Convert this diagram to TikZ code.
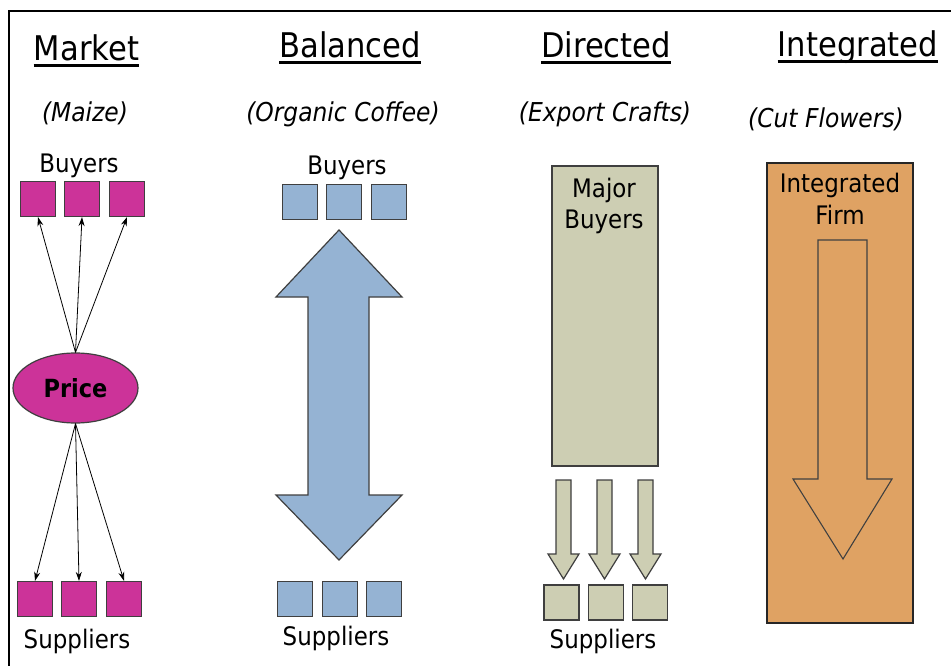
\documentclass[tikz,border=0pt]{standalone}
\usepackage{fontspec}
\setmainfont{DejaVu Sans}[FakeStretch=0.9]
\usetikzlibrary{arrows.meta,shapes.geometric}
\definecolor{mag}{HTML}{CC3399}
\definecolor{lblue}{HTML}{95B3D3}
\definecolor{khaki}{HTML}{CDCEB3}
\definecolor{orng}{HTML}{DFA263}
\definecolor{edge}{HTML}{3F3F3F}
\begin{document}
\begin{tikzpicture}[x=1pt,y=-1pt,
  title/.style={inner sep=0pt, anchor=base, font=\fontsize{34}{40}\selectfont},
  sub/.style={inner sep=0pt, anchor=base, font=\fontsize{26}{30}\selectfont\itshape},
  lab/.style={inner sep=0pt, anchor=base, font=\fontsize{25.5}{30}\selectfont},
  sq/.style={draw=edge, line width=1.2pt, minimum size=35pt, inner sep=0pt},
  conn/.style={-{Stealth[length=9pt,width=6pt]}, line width=0.8pt},
  blockarrow/.style={draw=edge, line width=1.2pt, line join=miter},
  uline/.style={line width=2.4pt}]
\useasboundingbox (0,0) rectangle (951,666);
\fill[white] (0,0) rectangle (951,666);
% frame
\draw[line width=2pt] (951,11) -- (9,11) -- (9,666);

% ---------- titles ----------
\node[title] (t1) at (86.5,61) {Market};
\node[title] (t2) at (350,58) {Balanced};
\node[title] (t3) at (606,58) {Directed};
\node[title] (t4) at (858,57) {Integrated};
\foreach \t in {t1,t2,t3,t4}
  \draw[uline] ([yshift=-4.5pt]\t.base west) -- ([yshift=-4.5pt]\t.base east);

\node[sub] (s1) at (85,122) {(Maize)};
\node[sub] (s2) at (343,122) {(Organic Coffee)};
\node[sub] (s3) at (605,122) {(Export Crafts)};
\node[sub] (s4) at (826,128) {(Cut Flowers)};

% ---------- Market ----------
\node[lab] (mbl) at (79,172) {Buyers};
\node[sq, fill=mag] (mb1) at (38,199) {};
\node[sq, fill=mag] (mb2) at (82,199) {};
\node[sq, fill=mag] (mb3) at (127,199) {};
\node[ellipse, draw=edge, line width=1.2pt, fill=mag, minimum width=125pt, minimum height=70pt, inner sep=0pt,
      font=\fontsize{25}{30}\selectfont\bfseries] (price) at (75.5,388) {Price};
\node[sq, fill=mag] (ms1) at (35,599) {};
\node[sq, fill=mag] (ms2) at (79,599) {};
\node[sq, fill=mag] (ms3) at (124,599) {};
\node[lab] (msl) at (77,648) {Suppliers};
\foreach \b in {mb1,mb2,mb3} \draw[conn] (price.north) -- (\b.south);
\foreach \s in {ms1,ms2,ms3} \draw[conn] (price.south) -- (\s.north);

% ---------- Balanced ----------
\node[lab] (bbl) at (347,175) {Buyers};
\node[sq, fill=lblue] (bb1) at (300,202) {};
\node[sq, fill=lblue] (bb2) at (344,202) {};
\node[sq, fill=lblue] (bb3) at (389,202) {};
\draw[blockarrow, fill=lblue] (339,230) -- (402,297) -- (369,297) -- (369,495) -- (402,495) -- (339,560)
  -- (276,495) -- (308,495) -- (308,297) -- (276,297) -- cycle;
\node[sq, fill=lblue] (bs1) at (295,599) {};
\node[sq, fill=lblue] (bs2) at (340,599) {};
\node[sq, fill=lblue] (bs3) at (384,599) {};
\node[lab] (bsl) at (336,645) {Suppliers};

% ---------- Directed ----------
\node[draw=edge, line width=1.2pt, fill=khaki, minimum width=106pt, minimum height=300pt, inner sep=0pt] (db) at (605,316) {};
\node[lab] (dbl1) at (604,197) {Major};
\node[lab] (dbl2) at (604,229) {Buyers};
\foreach \cx in {563.5,604.5,645.5}
  \draw[blockarrow, fill=khaki] ({\cx-7.5},480) -- ({\cx+7.5},480) -- ({\cx+7.5},554) -- ({\cx+15.5},554)
    -- (\cx,579) -- ({\cx-15.5},554) -- ({\cx-7.5},554) -- cycle;
\node[sq, fill=khaki] (ds1) at (561.5,602.5) {};
\node[sq, fill=khaki] (ds2) at (606,602.5) {};
\node[sq, fill=khaki] (ds3) at (650,602.5) {};
\node[lab] (dsl) at (603,648) {Suppliers};

% ---------- Integrated ----------
\node[draw=black!85, line width=1.2pt, fill=orng, minimum width=146pt, minimum height=460pt, inner sep=0pt] (ib) at (840,393) {};
\node[lab] (ibl1) at (840,193) {Integrated};
\node[lab] (ibl2) at (840,225) {Firm};
\draw[draw=black!75, line width=1.1pt, line join=miter] (818,240) -- (867,240) -- (867,479) -- (892,479)
  -- (843,559) -- (793,479) -- (818,479) -- cycle;
\end{tikzpicture}
\end{document}
